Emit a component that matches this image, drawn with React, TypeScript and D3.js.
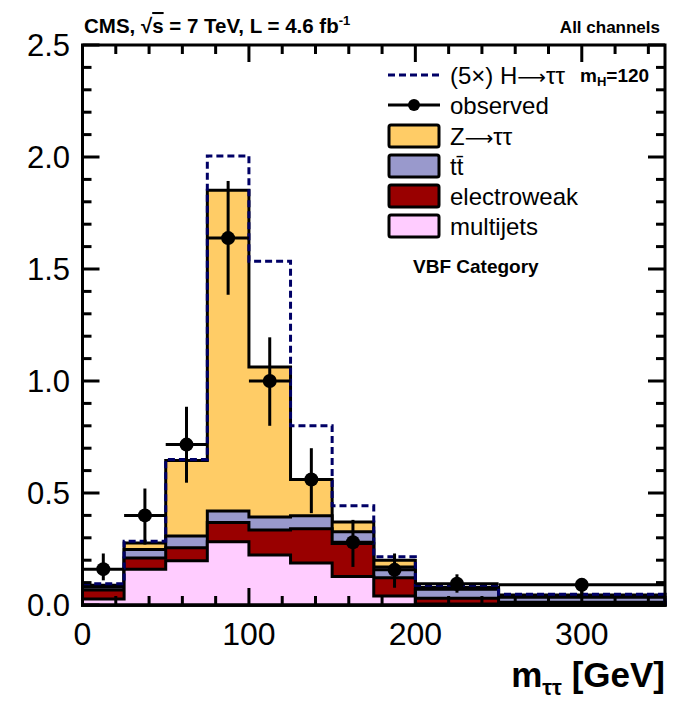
import React from "react";
import * as d3 from "d3";

// ---- Data ----
const binEdges = [0, 25, 50, 75, 100, 125, 150, 175, 200, 250, 350];
const multijets = [0.027, 0.16, 0.197, 0.282, 0.223, 0.188, 0.127, 0.04, 0.004, 0.003];
const electroweak = [0.04, 0.05, 0.059, 0.086, 0.112, 0.152, 0.147, 0.082, 0.026, 0.009];
const ttbar = [0.013, 0.038, 0.052, 0.052, 0.058, 0.058, 0.053, 0.048, 0.04, 0.023];
const ztautau = [0.008, 0.029, 0.337, 1.432, 0.67, 0.162, 0.043, 0.03, 0.008, 0.01];
const higgs5x = [0.007, 0.008, 0.005, 0.153, 0.472, 0.24, 0.073, 0.015, 0.01, 0.003];
const observed = [0.16, 0.4, 0.716, 1.638, 1.0, 0.56, 0.28, 0.157, 0.095, 0.09];
const obsUp = [0.23, 0.52, 0.885, 1.893, 1.195, 0.7, 0.38, 0.23, 0.137, 0.115];
const obsDown = [0.11, 0.27, 0.546, 1.385, 0.8, 0.41, 0.17, 0.077, 0.055, 0.05];
const yTicks = [0, 0.5, 1.0, 1.5, 2.0, 2.5];
const xTicks = [0, 100, 200, 300];

const W = 675;
const H = 707;
const FONT = "'Liberation Sans', Arial, Helvetica, sans-serif";
const ARROW_FONT = "'DejaVu Sans', sans-serif";
const ARROW = "⟶";

const x = d3.scaleLinear().domain([0, 350]).range([82.5, 665]);
const y = d3.scaleLinear().domain([0, 2.5]).range([605, 45]);

const keys = ["multijets", "electroweak", "ttbar", "ztautau"];
const colors: Record<string, string> = {
  multijets: "#FFCCFF",
  electroweak: "#990000",
  ttbar: "#9999CC",
  ztautau: "#FFCC66",
};
const rows = binEdges.slice(0, -1).map((lo, i) => ({
  lo,
  hi: binEdges[i + 1],
  multijets: multijets[i],
  electroweak: electroweak[i],
  ttbar: ttbar[i],
  ztautau: ztautau[i],
}));
const stacked = d3.stack<any>().keys(keys)(rows);

function stepPoints(tops: number[]): [number, number][] {
  const pts: [number, number][] = [[x(binEdges[0]), y(0)]];
  tops.forEach((v, i) => {
    pts.push([x(binEdges[i]), y(v)]);
    pts.push([x(binEdges[i + 1]), y(v)]);
  });
  pts.push([x(binEdges[binEdges.length - 1]), y(0)]);
  return pts;
}
const line = d3.line<[number, number]>();

export default function App() {
  const layers = stacked.map((s) => ({ key: s.key, tops: s.map((d) => d[1]) }));
  const zTops = layers[layers.length - 1].tops;
  const higgsTops = zTops.map((v, i) => v + higgs5x[i]);

  const xMinor = d3.range(0, 351, 20).filter((v) => v % 100 !== 0);
  const yMinor = d3.range(0, 26, 1).map((v) => v / 10).filter((v) => Math.round(v * 10) % 5 !== 0);

  const legendX0 = 388;
  const legendX1 = 440;
  const legendText = 450;
  const boxRows = [
    { key: "ztautau", label: ["Z", ARROW, "ττ"], cy: 136 },
    { key: "ttbar", label: ["tt̄"], cy: 166 },
    { key: "electroweak", label: ["electroweak"], cy: 196 },
    { key: "multijets", label: ["multijets"], cy: 226 },
  ];

  return (
    <svg
      width={W}
      height={H}
      style={{ position: "absolute", left: 0, top: 0, background: "#fff" }}
      fontFamily={FONT}
    >
      <rect x={0} y={0} width={W} height={H} fill="#fff" />
      {[...layers].reverse().map((l) => (
        <path
          key={l.key}
          d={line(stepPoints(l.tops)) + "Z"}
          fill={colors[l.key]}
          stroke="#000"
          strokeWidth={3}
          strokeLinejoin="miter"
        />
      ))}
      <path
        d={line(stepPoints(higgsTops)) || ""}
        fill="none"
        stroke="#000066"
        strokeWidth={3}
        strokeDasharray="7,4"
      />
      {observed.map((v, i) => {
        const cx = x((binEdges[i] + binEdges[i + 1]) / 2);
        return (
          <g key={i}>
            <line x1={x(binEdges[i])} x2={x(binEdges[i + 1])} y1={y(v)} y2={y(v)} stroke="#000" strokeWidth={3} />
            <line x1={cx} x2={cx} y1={y(obsUp[i])} y2={y(obsDown[i])} stroke="#000" strokeWidth={3} />
            <circle cx={cx} cy={y(v)} r={7} fill="#000" />
          </g>
        );
      })}
      <rect x={x(0)} y={y(2.5)} width={x(350) - x(0)} height={y(0) - y(2.5)} fill="none" stroke="#000" strokeWidth={3} />
      {xTicks.map((t) => (
        <g key={"xt" + t}>
          <line x1={x(t)} x2={x(t)} y1={y(0)} y2={y(0) - 17} stroke="#000" strokeWidth={3} />
          <line x1={x(t)} x2={x(t)} y1={y(2.5)} y2={y(2.5) + 17} stroke="#000" strokeWidth={3} />
          <text x={x(t)} y={645} fontSize={32} textAnchor="middle" fill="#000">
            {t}
          </text>
        </g>
      ))}
      {xMinor.map((t) => (
        <g key={"xm" + t}>
          <line x1={x(t)} x2={x(t)} y1={y(0)} y2={y(0) - 9} stroke="#000" strokeWidth={3} />
          <line x1={x(t)} x2={x(t)} y1={y(2.5)} y2={y(2.5) + 9} stroke="#000" strokeWidth={3} />
        </g>
      ))}
      {yTicks.map((t) => (
        <g key={"yt" + t}>
          <line x1={x(0)} x2={x(0) + 17} y1={y(t)} y2={y(t)} stroke="#000" strokeWidth={3} />
          <line x1={x(350)} x2={x(350) - 17} y1={y(t)} y2={y(t)} stroke="#000" strokeWidth={3} />
          <text x={70} y={y(t) + 11} fontSize={31} textAnchor="end" fill="#000">
            {d3.format(".1f")(t)}
          </text>
        </g>
      ))}
      {yMinor.map((t) => (
        <g key={"ym" + t}>
          <line x1={x(0)} x2={x(0) + 9} y1={y(t)} y2={y(t)} stroke="#000" strokeWidth={3} />
          <line x1={x(350)} x2={x(350) - 9} y1={y(t)} y2={y(t)} stroke="#000" strokeWidth={3} />
        </g>
      ))}
      <text x={665} y={687} fontSize={35} fontWeight="bold" textAnchor="end" fill="#000">
        m
        <tspan fontSize={22} dy={8}>ττ</tspan>
        <tspan dy={-8}> [GeV]</tspan>
      </text>
      <text x={84} y={33} fontSize={20.5} fontWeight="bold" fill="#000">
        CMS, √<tspan style={{ textDecoration: "overline" }}>s</tspan> = 7 TeV, L = 4.6 fb
        <tspan fontSize={13} dy={-8}>-1</tspan>
      </text>
      <text x={660} y={33} fontSize={17} fontWeight="bold" textAnchor="end" fill="#000">
        All channels
      </text>
      <line x1={legendX0} x2={legendX1} y1={75} y2={75} stroke="#000066" strokeWidth={3} strokeDasharray="7,4" />
      <text x={legendText} y={84} fontSize={24} fill="#000">
        (5×) H<tspan fontFamily={ARROW_FONT} fontSize={20}>{ARROW}</tspan>ττ
      </text>
      <text x={580} y={82} fontSize={19} fontWeight="bold" fill="#000">
        m<tspan fontSize={13} dy={4}>H</tspan>
        <tspan dy={-4}>=120</tspan>
      </text>
      <line x1={legendX0} x2={legendX1} y1={105} y2={105} stroke="#000" strokeWidth={3} />
      <circle cx={(legendX0 + legendX1) / 2} cy={105} r={6} fill="#000" />
      <text x={legendText} y={114} fontSize={24} fill="#000">
        observed
      </text>
      {boxRows.map((r) => (
        <g key={"lg" + r.key}>
          <rect
            x={legendX0 + 1}
            y={r.cy - 11}
            width={legendX1 - legendX0 - 2}
            height={22}
            fill={colors[r.key]}
            stroke="#000"
            strokeWidth={3}
            rx={2}
          />
          <text x={legendText} y={r.cy + 9} fontSize={24} fill="#000">
            {r.label.map((part, j) =>
              part === ARROW ? (
                <tspan key={j} fontFamily={ARROW_FONT} fontSize={20}>
                  {part}
                </tspan>
              ) : (
                <tspan key={j}>{part}</tspan>
              )
            )}
          </text>
        </g>
      ))}
      <text x={413} y={273} fontSize={19} fontWeight="bold" fill="#000">
        VBF Category
      </text>
    </svg>
  );
}
